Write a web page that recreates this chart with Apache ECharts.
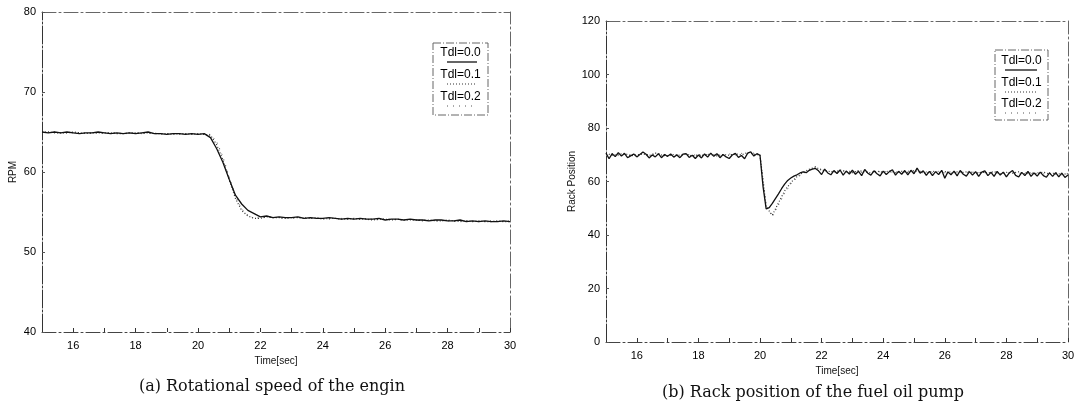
<!DOCTYPE html>
<html>
<head>
<meta charset="utf-8">
<script src="https://cdn.jsdelivr.net/npm/echarts@6.0.0/dist/echarts.min.js"></script>
<style>
  html, body { margin: 0; background: #fff; }
  #echarts { width: 1079px; height: 411px; }
</style>
</head>
<body>
<div id="echarts"></div>
<script>
// sample times (sec)
function sampleTimes(start, end, step) {
  const out = [];
  for (let t = start; t <= end + 1e-9; t += step) out.push(Math.round(t * 10) / 10);
  return out;
}
const time02 = sampleTimes(15, 30, 0.2);
const time01 = sampleTimes(15, 30, 0.1);

const legendNames = ['Tdl=0.0', 'Tdl=0.1', 'Tdl=0.2'];

// (a) engine speed, RPM, sampled every 0.2 s
const rpm00 = [
  65.0, 64.9, 65.0, 64.9, 65.0, 64.9, 64.8, 64.9, 64.9, 65.0,
  64.9, 64.8, 64.9, 64.8, 64.9, 64.8, 64.9, 65.0, 64.8, 64.8,
  64.7, 64.8, 64.8, 64.7, 64.8, 64.7, 64.8, 64.3, 62.9, 61.2,
  59.1, 57.1, 56.0, 55.2, 54.8, 54.4, 54.5, 54.3, 54.4, 54.3,
  54.3, 54.4, 54.2, 54.3, 54.2, 54.2, 54.3, 54.2, 54.1, 54.2,
  54.1, 54.2, 54.1, 54.1, 54.2, 54.0, 54.1, 54.1, 54.0, 54.1,
  54.0, 54.0, 53.9, 54.0, 54.0, 53.9, 53.9, 54.0, 53.8, 53.9,
  53.8, 53.9, 53.8, 53.8, 53.9, 53.8
];
const rpm01 = [
  65.0, 65.0, 64.9, 64.9, 64.9, 65.0, 64.9, 64.8, 64.9, 64.9,
  64.9, 64.9, 64.8, 64.8, 64.9, 64.9, 64.8, 64.9, 64.8, 64.8,
  64.8, 64.7, 64.8, 64.8, 64.7, 64.8, 64.7, 64.6, 63.4, 61.5,
  59.0, 56.7, 55.2, 54.5, 54.2, 54.2, 54.4, 54.3, 54.3, 54.2,
  54.3, 54.3, 54.2, 54.2, 54.3, 54.1, 54.2, 54.2, 54.1, 54.1,
  54.2, 54.1, 54.1, 54.0, 54.1, 54.1, 54.0, 54.1, 54.0, 54.0,
  54.0, 53.9, 54.0, 53.9, 53.9, 54.0, 53.9, 53.8, 53.9, 53.8,
  53.9, 53.8, 53.8, 53.9, 53.8, 53.8
];
const rpm02 = [
  64.9, 65.0, 65.0, 64.9, 64.9, 64.9, 64.9, 64.9, 64.8, 64.9,
  64.8, 64.9, 64.9, 64.8, 64.8, 64.9, 64.9, 64.8, 64.9, 64.7,
  64.8, 64.8, 64.7, 64.8, 64.8, 64.7, 64.7, 64.7, 63.8, 61.9,
  59.4, 57.0, 55.4, 54.6, 54.2, 54.3, 54.3, 54.4, 54.2, 54.3,
  54.2, 54.3, 54.3, 54.2, 54.2, 54.2, 54.1, 54.2, 54.2, 54.1,
  54.1, 54.1, 54.2, 54.1, 54.0, 54.1, 54.1, 54.0, 54.0, 54.1,
  53.9, 54.0, 54.0, 53.9, 53.9, 53.9, 53.8, 53.9, 53.9, 53.8,
  53.8, 53.8, 53.9, 53.8, 53.8, 53.9
];

// (b) rack position, Tdl=0.0 every 0.1 s, others every 0.2 s
const rack00 = [
  70.6, 68.5, 70.4, 69.3, 70.8, 69.5, 70.5, 68.9, 69.6, 70.3,
  69.2, 70.1, 71.0, 70.2, 68.8, 69.9, 69.2, 70.4, 68.9, 70.1,
  69.4, 70.3, 69.1, 69.9, 68.9, 70.2, 70.4, 69.0, 69.8, 68.6,
  69.9, 68.8, 70.3, 69.1, 70.6, 69.4, 70.4, 68.9, 70.1, 69.2,
  68.6, 69.9, 70.5, 69.0, 69.7, 68.5, 70.6, 71.1, 69.5, 70.4,
  69.8, 58.0, 49.8, 50.2, 51.8, 53.6, 55.4, 57.3, 59.0, 60.4,
  61.3, 62.0, 62.5, 63.2, 63.6, 63.3, 64.2, 64.6, 64.9, 64.0,
  62.6, 64.6, 63.2, 62.5, 64.1, 63.0, 64.3, 62.4, 63.9, 62.8,
  64.2, 62.7, 63.8, 62.2, 64.5, 63.1, 62.4, 64.0, 62.9, 62.1,
  63.9, 62.6, 63.7, 64.4, 62.4, 63.8, 62.7, 64.1, 62.5, 64.2,
  62.9, 65.0, 63.1, 64.0, 62.3, 63.8, 62.2, 63.7, 62.6, 64.2,
  61.2, 63.6, 62.5, 63.9, 62.1, 64.1, 62.7, 62.0, 63.7, 62.4,
  63.7, 61.9, 63.5, 64.0, 62.2, 63.4, 61.9, 63.8, 62.4, 63.5,
  61.7, 63.3, 64.1, 62.3, 61.7, 63.4, 62.2, 63.8, 61.9, 63.2,
  62.0, 63.5, 62.2, 61.6, 63.2, 61.9, 63.3, 61.7, 63.1, 61.5,
  62.4
];
const rack01 = [
  70.6, 69.8, 70.1, 70.5, 69.6, 70.0, 70.3, 69.7, 70.6, 69.9,
  69.5, 70.1, 69.8, 70.3, 69.5, 70.0, 69.7, 70.4, 69.6, 70.1,
  69.8, 70.4, 69.9, 70.9, 70.2, 69.9, 50.5, 47.4, 52.0, 56.5,
  59.6, 61.8, 63.4, 64.6, 65.4, 64.2, 63.9, 63.4, 64.3, 63.7,
  63.3, 64.1, 63.6, 63.2, 63.9, 63.4, 64.0, 63.3, 63.8, 63.4,
  64.1, 63.5, 63.1, 63.9, 63.3, 63.7, 63.1, 63.6, 63.4, 63.8,
  63.0, 63.5, 63.2, 63.7, 62.9, 63.4, 63.1, 63.6, 62.8, 63.3,
  62.9, 63.5, 62.8, 63.2, 62.6, 63.0
];
const rack02 = [
  70.2, 70.4, 69.7, 70.2, 70.0, 69.6, 70.5, 69.9, 70.2, 70.4,
  69.9, 69.7, 70.3, 69.9, 70.1, 69.6, 70.2, 69.8, 70.2, 69.7,
  70.3, 69.9, 70.5, 70.4, 70.6, 69.7, 51.5, 46.8, 51.2, 55.6,
  59.0, 61.4, 63.0, 64.3, 65.6, 64.5, 63.5, 63.9, 63.6, 64.1,
  63.6, 63.7, 63.2, 63.8, 63.5, 63.9, 63.4, 63.7, 63.2, 63.9,
  63.5, 63.8, 63.6, 63.3, 63.8, 63.2, 63.7, 63.3, 63.9, 63.2,
  63.6, 63.1, 63.6, 63.2, 63.5, 62.9, 63.5, 63.0, 63.4, 62.9,
  63.3, 62.8, 63.3, 62.7, 63.1, 62.8
];

const pair = (times, vals) => times.map((t, i) => [t, vals[i]]);

const lineStyles = [
  { color: '#111', width: 1.3, type: 'solid' },
  { color: '#333', width: 1.2, type: [1, 2] },
  { color: '#555', width: 1, type: [1, 5] },
];

const labelFont = { color: '#000', fontSize: 11, fontFamily: 'Liberation Sans' };
const frameLine = { color: '#666', width: 1, type: [14, 3, 2, 3] };

function bottomAxis(gridIndex, gap) {
  return {
    gridIndex, type: 'value', min: 15, max: 30, interval: 1,
    name: 'Time[sec]', nameLocation: 'middle', nameGap: gap,
    nameTextStyle: { color: '#111', fontSize: 10, fontFamily: 'Liberation Sans' },
    axisLine: { show: true, onZero: false, lineStyle: { color: '#444', width: 1, type: [14, 3, 2, 3] } },
    axisTick: { show: true, inside: true, length: 4, lineStyle: { color: '#333' } },
    axisLabel: Object.assign({ margin: 8, formatter: v => (v % 2 === 0 ? String(v) : '') }, labelFont),
    splitLine: { show: false },
  };
}
function topAxis(gridIndex) {
  return {
    gridIndex, type: 'value', min: 15, max: 30, position: 'top',
    axisLine: { show: true, onZero: false, lineStyle: frameLine },
    axisTick: { show: false }, axisLabel: { show: false }, splitLine: { show: false },
  };
}
function leftAxis(gridIndex, min, max, interval, name, gap) {
  return {
    gridIndex, type: 'value', min, max, interval,
    name, nameLocation: 'middle', nameGap: gap,
    nameTextStyle: { color: '#111', fontSize: 10, fontFamily: 'Liberation Sans' },
    axisLine: { show: true, onZero: false, lineStyle: { color: '#333', width: 1, type: [18, 2, 2, 2] } },
    axisTick: { show: true, inside: true, length: 3, lineStyle: { color: '#555' } },
    axisLabel: Object.assign({ margin: 6 }, labelFont),
    splitLine: { show: false },
  };
}
function rightAxis(gridIndex, min, max) {
  return {
    gridIndex, type: 'value', min, max, position: 'right',
    axisLine: { show: true, onZero: false, lineStyle: frameLine },
    axisTick: { show: false }, axisLabel: { show: false }, splitLine: { show: false },
  };
}

function mkSeries(xi, yi, list) {
  return list.map((d, k) => ({
    name: legendNames[k], type: 'line', xAxisIndex: xi, yAxisIndex: yi,
    data: d, showSymbol: false, symbol: 'none', smooth: false,
    lineStyle: lineStyles[k], z: 5 - k, animation: false,
  }));
}

// legend box drawn as graphic: text with a line sample beneath
function legendBox(x, y, w, h, rows, lineX1, lineX2) {
  const children = [{
    type: 'rect', shape: { x, y, width: w, height: h },
    style: { fill: '#fff', stroke: '#666', lineWidth: 1, lineDash: [8, 2, 1, 2] },
  }];
  rows.forEach((r, k) => {
    children.push({
      type: 'text',
      style: { text: legendNames[k], x: x + w / 2, y: r, align: 'center', verticalAlign: 'middle',
        font: '12px "Liberation Sans"', fill: '#000' },
    });
    children.push({
      type: 'line', shape: { x1: lineX1, y1: r + 9, x2: lineX2, y2: r + 9 },
      style: { stroke: lineStyles[k].color, lineWidth: lineStyles[k].width,
        lineDash: k === 0 ? null : lineStyles[k].type },
    });
  });
  return { type: 'group', children, z: 100 };
}

let myChart = echarts.init(document.getElementById('echarts'));
let option = {
  backgroundColor: '#fff',
  animation: false,
  grid: [
    { left: 42, top: 12, width: 468, height: 320, outerBoundsMode: 'none' },
    { left: 606, top: 21, width: 462, height: 321, outerBoundsMode: 'none' },
  ],
  xAxis: [bottomAxis(0, 22), topAxis(0), bottomAxis(1, 22), topAxis(1)],
  yAxis: [
    leftAxis(0, 40, 80, 10, 'RPM', 24), rightAxis(0, 40, 80),
    leftAxis(1, 0, 120, 20, 'Rack Position', 28), rightAxis(1, 0, 120),
  ],
  series: [
    ...mkSeries(0, 0, [pair(time02, rpm00), pair(time02, rpm01), pair(time02, rpm02)]),
    ...mkSeries(2, 2, [pair(time01, rack00), pair(time02, rack01), pair(time02, rack02)]),
  ],
  graphic: [
    legendBox(433, 43, 55, 72, [53, 75, 97], 447, 477),
    legendBox(995, 50, 53, 70, [61, 83, 104], 1005, 1037),
    {
      type: 'text', z: 100,
      style: { text: '(a) Rotational speed of the engin', x: 272, y: 387, align: 'center',
        verticalAlign: 'middle', font: '16px "DejaVu Serif"', fill: '#111' },
    },
    {
      type: 'text', z: 100,
      style: { text: '(b) Rack position of the fuel oil pump', x: 813, y: 393, align: 'center',
        verticalAlign: 'middle', font: '16px "DejaVu Serif"', fill: '#111' },
    },
  ],
};
myChart.setOption(option);
</script>
</body>
</html>
